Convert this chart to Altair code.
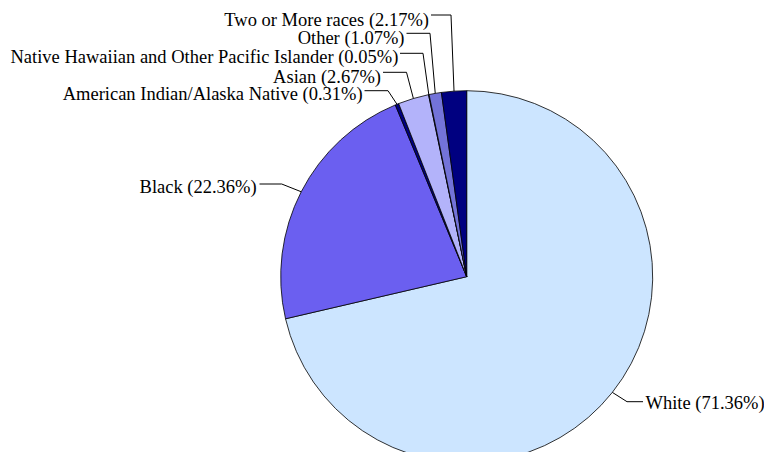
import math
import altair as alt
import pandas as pd

# ---- data ----
categories = ["White", "Black", "American Indian/Alaska Native", "Asian",
              "Native Hawaiian and Other Pacific Islander", "Other", "Two or More races"]
percents = [71.36, 22.36, 0.31, 2.67, 0.05, 1.07, 2.17]
colors = ["#CCE5FF", "#6B5FF0", "#000080", "#B3B3FA", "#4040B0", "#7373D9", "#000080"]

# ---- layout (page pixel coordinates) ----
W, H = 756, 444
MARGIN = 8
CX, CY, R = 466.7, 276.7, 186
label_x = [645.5, 256.7, 362.7, 381.0, 398.3, 404.5, 429.0]
label_y = [409.3, 193.3, 100.0, 82.7, 63.3, 44.0, 26.0]
line_y = [401.7, 184.0, 90.7, 72.3, 53.3, 33.3, 15.0]
line_start_x = [643.0, 259.5, 364.5, 383.0, 400.0, 406.5, 431.0]
elbow_x = [627.0, 281.7, 388.0, 406.5, 423.0, 430.0, 451.0]
side = ["left", "right", "right", "right", "right", "right", "right"]

labels = [f"{c} ({p:.2f}%)" for c, p in zip(categories, percents)]
total = sum(percents)

pie_df = pd.DataFrame({"cat": categories, "pct": percents, "order": range(len(categories))})

# leader lines computed from slice mid-angles
rows = []
cum = 0.0
for i, (c, p) in enumerate(zip(categories, percents)):
    mid = (cum + p / 2) / total * 2 * math.pi
    cum += p
    ex = CX + R * math.sin(mid)
    ey = CY - R * math.cos(mid)
    pts = [(ex, ey), (elbow_x[i], line_y[i]), (line_start_x[i], line_y[i])]
    for k, (px, py) in enumerate(pts):
        rows.append({"cat": c, "k": k, "x": px, "y": py})
line_df = pd.DataFrame(rows)

text_df = pd.DataFrame({"label": labels, "x": label_x, "y": label_y, "side": side})

xs = alt.Scale(domain=[MARGIN, MARGIN + W], nice=False, zero=False)
ys = alt.Scale(domain=[MARGIN, MARGIN + H], nice=False, zero=False, reverse=True)

pie = alt.Chart(pie_df).mark_arc(outerRadius=R, stroke="black", strokeWidth=0.8).encode(
    theta=alt.Theta("pct:Q", stack=True),
    order=alt.Order("order:Q", sort="ascending"),
    color=alt.Color("cat:N", scale=alt.Scale(domain=categories, range=colors), legend=None),
    x=alt.value(CX - MARGIN),
    y=alt.value(CY - MARGIN),
)

lines = alt.Chart(line_df).mark_line(color="black", strokeWidth=1).encode(
    x=alt.X("x:Q", scale=xs, axis=None),
    y=alt.Y("y:Q", scale=ys, axis=None),
    detail="cat:N",
    order="k:Q",
)

font = "Liberation Serif"
text_right = alt.Chart(text_df).transform_filter(alt.datum.side == "right").mark_text(
    align="right", baseline="alphabetic", font=font, fontSize=18.5, color="black"
).encode(
    x=alt.X("x:Q", scale=xs, axis=None),
    y=alt.Y("y:Q", scale=ys, axis=None),
    text="label:N",
)
text_left = alt.Chart(text_df).transform_filter(alt.datum.side == "left").mark_text(
    align="left", baseline="alphabetic", font=font, fontSize=18.5, color="black"
).encode(
    x=alt.X("x:Q", scale=xs, axis=None),
    y=alt.Y("y:Q", scale=ys, axis=None),
    text="label:N",
)

chart = alt.layer(pie, lines, text_right, text_left).properties(
    width=W, height=H, padding=0, autosize=alt.AutoSizeParams(type="none"),
    background="white",
).configure_view(stroke=None)

chart.save("out.html", embed_options={"renderer": "svg", "actions": False})
